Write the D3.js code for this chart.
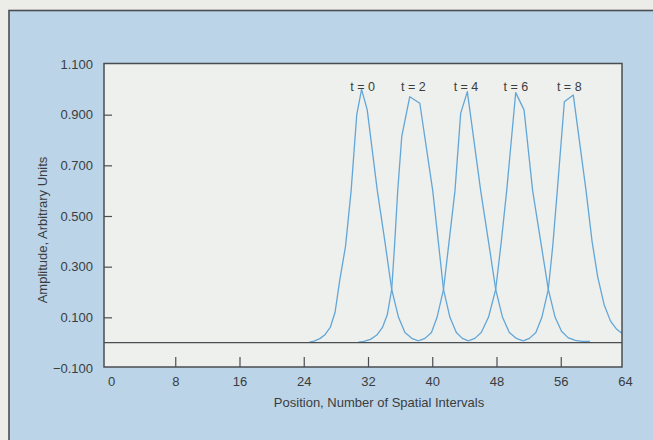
<!DOCTYPE html>
<html>
<head>
<meta charset="utf-8">
<script src="https://cdn.jsdelivr.net/npm/d3@7"></script>
<style>
  html, body { margin: 0; padding: 0; background: #ecede8; }
  svg { display: block; }
  text { font-family: "Liberation Sans Narrow", "Liberation Sans", Arial, sans-serif; fill: #3a3d40; }
</style>
</head>
<body>
<svg id="chart" width="653" height="440"></svg>
<script>
// ---- data ----
const xTicks = [0, 8, 16, 24, 32, 40, 48, 56, 64];
const yTicks = [-0.1, 0.1, 0.3, 0.5, 0.7, 0.9, 1.1];
const yTickLabels = ["\u22120.100", "0.100", "0.300", "0.500", "0.700", "0.900", "1.100"];
const seriesNames = ["t = 0", "t = 2", "t = 4", "t = 6", "t = 8"];

const t0X = [24.7, 25.3, 26.0, 26.6, 27.3, 27.9, 28.5, 29.2, 29.9, 30.6, 31.2, 31.9, 33.16, 34.1, 34.95, 35.8, 36.6, 37.45, 38.27];
const t0Y = [0.002, 0.006, 0.016, 0.03, 0.06, 0.12, 0.25, 0.38, 0.60, 0.90, 1.0, 0.92, 0.60, 0.40, 0.21, 0.10, 0.04, 0.017, 0.007];

const t2X = [30.8, 31.5, 32.3, 33.1, 33.8, 34.4, 34.95, 35.3, 35.7, 36.2, 37.2, 38.45, 40.06, 40.75, 41.4, 42.2, 43.0, 43.75, 44.5];
const t2Y = [0.002, 0.005, 0.013, 0.03, 0.06, 0.11, 0.21, 0.38, 0.60, 0.813, 0.971, 0.945, 0.60, 0.40, 0.21, 0.10, 0.04, 0.017, 0.007];

const t4X = [38.27, 39.1, 39.9, 40.6, 41.4, 42.1, 42.83, 43.54, 44.37, 46.03, 47.0, 47.9, 48.75, 49.6, 50.45, 51.34];
const t4Y = [0.007, 0.017, 0.04, 0.10, 0.21, 0.40, 0.60, 0.905, 0.991, 0.60, 0.40, 0.21, 0.10, 0.04, 0.017, 0.007];

const t6X = [44.5, 45.3, 46.1, 47.0, 47.9, 48.6, 49.27, 50.39, 51.43, 52.5, 53.5, 54.45, 55.3, 56.1, 56.9, 57.8, 58.7, 59.64];
const t6Y = [0.007, 0.017, 0.04, 0.10, 0.21, 0.40, 0.60, 0.987, 0.919, 0.60, 0.40, 0.21, 0.10, 0.045, 0.02, 0.009, 0.005, 0.005];

const t8X = [51.34, 52.1, 52.9, 53.65, 54.45, 55.0, 55.57, 56.45, 57.56, 59.15, 59.9, 60.6, 61.4, 62.2, 62.9, 63.6];
const t8Y = [0.007, 0.017, 0.04, 0.10, 0.21, 0.38, 0.60, 0.951, 0.978, 0.60, 0.40, 0.26, 0.15, 0.085, 0.055, 0.037];

// label anchor (x, y) in data units
const labelX = [31.34, 37.64, 44.2, 50.4, 57.06];
const labelY = [0.995, 0.995, 0.995, 0.995, 0.995];

// ---- layout ----
const svg = d3.select("#chart");
const W = 653, H = 440;
const plot = { left: 104, right: 622, top: 63.5, bottom: 367 };
const FONT = "'Liberation Sans Narrow', 'Liberation Sans', Arial, sans-serif";

const x = d3.scaleLinear().domain([0, 64]).range([111, 625]);
const y = d3.scaleLinear().domain([-0.1, 1.1]).range([368, 64]);

// outer panel
svg.append("rect").attr("x", 0).attr("y", 0).attr("width", W).attr("height", H).attr("fill", "#ecede8");
svg.append("rect").attr("x", 9).attr("y", 10.5).attr("width", 660).attr("height", 440)
  .attr("fill", "#bcd4e7").attr("stroke", "#4a4d52").attr("stroke-width", 1.6);

// plot area
svg.append("rect").attr("x", plot.left).attr("y", plot.top)
  .attr("width", plot.right - plot.left).attr("height", plot.bottom - plot.top)
  .attr("fill", "#eef0ed");

// curves
const series = [
  { name: seriesNames[0], xs: t0X, ys: t0Y },
  { name: seriesNames[1], xs: t2X, ys: t2Y },
  { name: seriesNames[2], xs: t4X, ys: t4Y },
  { name: seriesNames[3], xs: t6X, ys: t6Y },
  { name: seriesNames[4], xs: t8X, ys: t8Y }
];
const line = d3.line().x(d => x(d[0])).y(d => y(d[1])).curve(d3.curveLinear);
svg.append("g").selectAll("path").data(series).join("path")
  .attr("d", s => line(s.xs.map((v, i) => [v, s.ys[i]])))
  .attr("fill", "none").attr("stroke", "#62a6d8").attr("stroke-width", 1.3)
  .attr("stroke-linejoin", "round");

// zero line
svg.append("line").attr("x1", plot.left).attr("x2", plot.right)
  .attr("y1", y(0)).attr("y2", y(0)).attr("stroke", "#4a4d52").attr("stroke-width", 1.3);

// frame
svg.append("rect").attr("x", plot.left).attr("y", plot.top)
  .attr("width", plot.right - plot.left).attr("height", plot.bottom - plot.top)
  .attr("fill", "none").attr("stroke", "#4a4d52").attr("stroke-width", 1.5);

// x axis (ticks inside, upward)
const xAxis = d3.axisBottom(x).tickValues(xTicks).tickSize(0).tickPadding(0).tickFormat(d3.format("d"));
const gx = svg.append("g").attr("transform", `translate(0,${plot.bottom})`).call(xAxis);
gx.select(".domain").remove();
gx.selectAll(".tick text").attr("y", 10).attr("font-size", 13).attr("fill", "#3a3d40")
  .style("font-family", FONT);
gx.selectAll(".tick").filter(d => d > 0 && d < 64).append("line")
  .attr("y1", 0).attr("y2", -10).attr("stroke", "#4a4d52").attr("stroke-width", 1.2);

// y axis (ticks inside)
const yAxis = d3.axisLeft(y).tickValues(yTicks).tickSize(0).tickPadding(11)
  .tickFormat((d, i) => yTickLabels[i]);
const gy = svg.append("g").attr("transform", `translate(${plot.left},0)`).call(yAxis);
gy.select(".domain").remove();
gy.selectAll(".tick text").attr("font-size", 13).attr("fill", "#3a3d40")
  .style("font-family", FONT);
gy.selectAll(".tick").filter(d => d > 0 && d < 1.0).append("line")
  .attr("x1", 0).attr("x2", 8).attr("stroke", "#4a4d52").attr("stroke-width", 1.2);

// axis titles
svg.append("text").attr("x", 379).attr("y", 406.5).attr("text-anchor", "middle")
  .attr("font-size", 13).text("Position, Number of Spatial Intervals");
svg.append("text").attr("transform", "translate(46.5,230) rotate(-90)").attr("text-anchor", "middle")
  .attr("font-size", 13).text("Amplitude, Arbitrary Units");

// series labels
svg.append("g").selectAll("text").data(series).join("text")
  .attr("x", (s, i) => x(labelX[i])).attr("y", (s, i) => y(labelY[i]))
  .attr("text-anchor", "middle").attr("font-size", 12.5).text(s => s.name);
</script>
</body>
</html>
